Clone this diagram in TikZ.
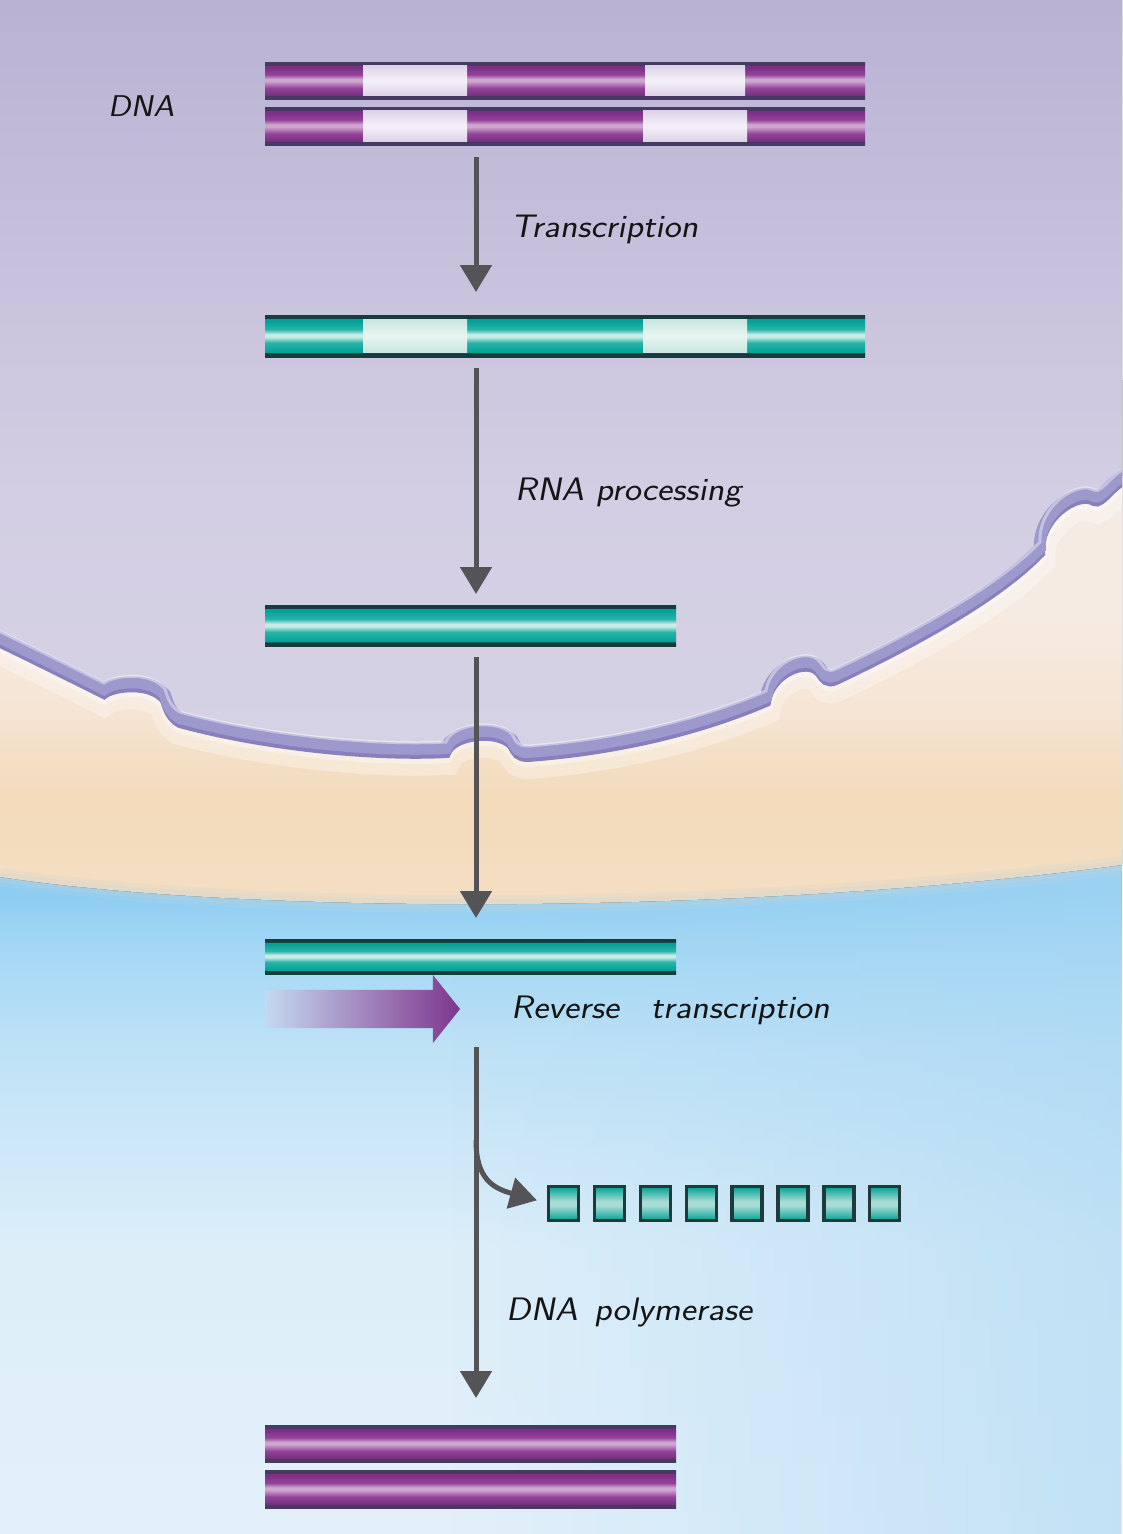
\documentclass[tikz,border=0pt]{standalone}
\usepackage{fontspec}
\usetikzlibrary{arrows.meta,shapes.arrows,fadings}
\newfontfamily\handfont{Latin Modern Sans}[FakeSlant=0.18,FakeStretch=1.12]

\definecolor{pedge}{HTML}{463A62}
\definecolor{pbot}{HTML}{74307F}
\definecolor{pbody}{HTML}{93449A}
\definecolor{phigh}{HTML}{CFA6CF}
\definecolor{ptop}{HTML}{7F2F87}
\definecolor{tedge}{HTML}{163C3E}
\definecolor{tbody}{HTML}{00A196}
\definecolor{tbodyb}{HTML}{2AB3A8}
\definecolor{thigh}{HTML}{C6EDE6}
\definecolor{thighsq}{HTML}{A8DCD4}
\definecolor{dlA}{HTML}{DCD2E8}
\definecolor{dlB}{HTML}{F3EFF8}
\definecolor{rlA}{HTML}{C9E6E1}
\definecolor{rlB}{HTML}{E6F4F1}
\definecolor{sqedge}{HTML}{1E3A3C}
\definecolor{arrowgray}{HTML}{545456}
\definecolor{nucT}{HTML}{B9B1D3}
\definecolor{nucU}{HTML}{C9C3DD}
\definecolor{nucM}{HTML}{D3CEE3}
\definecolor{nucB}{HTML}{D6D2E5}
\definecolor{peachB}{HTML}{F4DEC3}
\definecolor{peachM}{HTML}{F3DBBB}
\definecolor{peachL}{HTML}{F5E5D5}
\definecolor{peachT}{HTML}{F6EBE3}
\definecolor{blueB}{HTML}{E3F0FA}
\definecolor{blueM}{HTML}{DDEEF9}
\definecolor{blueL}{HTML}{BFE2F7}
\definecolor{blueS}{HTML}{A1D6F4}
\definecolor{blueT}{HTML}{8ECDF2}
\definecolor{bluetint}{HTML}{A8D6F3}
\definecolor{memb}{HTML}{9E99CD}
\definecolor{membdark}{HTML}{8780BD}
\definecolor{rtleft}{HTML}{C5D9F0}
\definecolor{rtright}{HTML}{7E368D}
\definecolor{handink}{HTML}{151515}
\colorlet{peachblue}{peachB!55!blueT}

\pgfdeclareverticalshading{dnashade}{100bp}{color(0bp)=(pedge); color(25bp)=(pedge); color(29.5bp)=(pedge); color(30bp)=(pbot); color(40bp)=(pbody); color(49bp)=(phigh); color(52bp)=(phigh); color(58bp)=(pbody); color(67bp)=(ptop); color(70bp)=(ptop); color(70.5bp)=(pedge); color(75bp)=(pedge); color(100bp)=(pedge)}
\pgfdeclareverticalshading{rnashade}{100bp}{color(0bp)=(tedge); color(25bp)=(tedge); color(29.7bp)=(tedge); color(30.2bp)=(tbody); color(42bp)=(tbodyb); color(49bp)=(thigh); color(52bp)=(thigh); color(58bp)=(tbodyb); color(68bp)=(tbody); color(70.3bp)=(tbody); color(70.8bp)=(tedge); color(75bp)=(tedge); color(100bp)=(tedge)}
\pgfdeclareverticalshading{dnalight}{100bp}{color(0bp)=(dlA); color(25bp)=(dlA); color(48bp)=(dlB); color(52bp)=(dlB); color(75bp)=(dlA); color(100bp)=(dlA)}
\pgfdeclareverticalshading{rnalight}{100bp}{color(0bp)=(rlA); color(25bp)=(rlA); color(48bp)=(rlB); color(52bp)=(rlB); color(75bp)=(rlA); color(100bp)=(rlA)}
\pgfdeclareverticalshading{sqshade}{100bp}{color(0bp)=(tbody); color(25bp)=(tbody); color(47bp)=(thighsq); color(53bp)=(thighsq); color(75bp)=(tbody); color(100bp)=(tbody)}
\pgfdeclareverticalshading{nucshade}{100bp}{color(0bp)=(nucB); color(25bp)=(nucB); color(42bp)=(nucM); color(55bp)=(nucU); color(75bp)=(nucT); color(100bp)=(nucT)}
\pgfdeclareverticalshading{peachshade}{100bp}{color(0bp)=(peachB); color(25bp)=(peachB); color(36bp)=(peachM); color(44.5bp)=(peachL); color(54bp)=(peachT); color(100bp)=(peachT)}
\pgfdeclareverticalshading{blueshade}{100bp}{color(0bp)=(blueB); color(25bp)=(blueB); color(45.8bp)=(blueM); color(60.4bp)=(blueL); color(68.4bp)=(blueS); color(71.7bp)=(blueT); color(100bp)=(blueT)}

\tikzfading[name=fadeLR, left color=transparent!100, right color=transparent!45]

\tikzset{
  bar/.style={rectangle, inner sep=0pt, outer sep=0pt, anchor=north west, shade},
  dnabar/.style={bar, shading=dnashade},
  rnabar/.style={bar, shading=rnashade},
  dnaintron/.style={bar, shading=dnalight},
  rnaintron/.style={bar, shading=rnalight},
  nucleotide/.style={rectangle, inner sep=0pt, outer sep=0pt, minimum width=30pt, minimum height=34pt, shade, shading=sqshade, draw=sqedge, line width=3.3pt},
  flow/.style={draw=arrowgray, line width=5pt, -{Triangle[width=31pt,length=27pt]}},
  lab/.style={font=\handfont\fontsize{32.5}{38}\selectfont, text=handink, anchor=base west, inner sep=0pt},
  rtstyle/.style={single arrow, shade, left color=rtleft, right color=rtright, minimum height=195pt, minimum width=68pt, single arrow head extend=15pt, single arrow tip angle=103, inner xsep=0pt, inner ysep=19pt, outer sep=0pt}
}

\def\membpath{(-20,628) .. controls (30,652) and (70,672) .. (104,689)
 .. controls (112,682) and (150,676) .. (165,695)
 .. controls (168,705) and (171,713) .. (180,718)
 .. controls (260,740) and (370,752) .. (446,748)
 .. controls (452,730) and (496,724) .. (512,740)
 .. controls (516,748) and (518,752) .. (528,752)
 .. controls (620,745) and (700,725) .. (766,697)
 .. controls (770,668) and (808,652) .. (820,668)
 .. controls (824,674) and (827,679) .. (836,675)
 .. controls (920,635) and (1000,590) .. (1040,548)
 .. controls (1038,512) and (1078,486) .. (1094,496)
 .. controls (1098,498) and (1102,494) .. (1110,486)
 .. controls (1118,478) and (1130,470) .. (1145,462)}
\def\bndpath{(1122,865) .. controls (750,915) and (250,915) .. (0,877)}

\begin{document}
\begin{tikzpicture}[x=1pt,y=-1pt]
\useasboundingbox (0,0) rectangle (1122,1534);
\begin{scope}
  \clip (0,0) rectangle (1122,1534);
  % cytoplasm (blue)
  \fill[shade, shading=blueshade] (0,850) rectangle (1122,1534);
  \fill[bluetint, path fading=fadeLR] (450,860) rectangle (1122,1534);
  % peach zone
  \fill[shade, shading=peachshade] (0,560) -- (1122,380) -- \bndpath -- cycle;
  \draw[line width=18pt, peachblue, opacity=.18] \bndpath;
  \draw[line width=10pt, peachblue, opacity=.22] \bndpath;
  % glow below membrane
  \draw[white, opacity=.3, line width=30pt, yshift=-12pt] \membpath;
  \draw[white, opacity=.35, line width=14pt, yshift=-8pt] \membpath;
  % nucleus
  \fill[shade, shading=nucshade] \membpath -- (1145,-10) -- (-20,-10) -- cycle;
  % nuclear envelope
  \draw[membdark, line width=10pt, yshift=-5pt] \membpath;
  \draw[memb, line width=12pt] \membpath;
  \draw[white, opacity=.4, line width=3pt, yshift=6pt] \membpath;
\end{scope}

% genomic DNA
\node[dnabar, minimum width=600pt, minimum height=37pt] (dna1) at (265,62) {};
\node[dnabar, minimum width=600pt, minimum height=38pt] (dna2) at (265,107) {};
\node[dnaintron, minimum width=104pt, minimum height=30pt] (in1) at (363,65.5) {};
\node[dnaintron, minimum width=100pt, minimum height=30pt] (in2) at (645,65.5) {};
\node[dnaintron, minimum width=104pt, minimum height=31pt] (in3) at (363,110.5) {};
\node[dnaintron, minimum width=104pt, minimum height=31pt] (in4) at (643,110.5) {};

% primary transcript
\node[rnabar, minimum width=600pt, minimum height=42pt] (rna) at (265,315) {};
\node[rnaintron, minimum width=104pt, minimum height=33pt] (rin1) at (363,319.5) {};
\node[rnaintron, minimum width=104pt, minimum height=33pt] (rin2) at (643,319.5) {};

% mRNA in nucleus
\node[rnabar, minimum width=411pt, minimum height=41pt] (mrna) at (265,605) {};
% mRNA in cytoplasm
\node[rnabar, minimum width=411pt, minimum height=35pt] (cmrna) at (265,939) {};
% reverse transcription arrow
\node[rtstyle, anchor=tip] (rtarrow) at (460,1009) {};
% nucleotides
\foreach \i in {1,...,8} {
  \node[nucleotide] (sq\i) at ({563.5+45.9*(\i-1)},1203.5) {};
}
% cDNA
\node[dnabar, minimum width=411pt, minimum height=37pt] (cdna1) at (265,1425) {};
\node[dnabar, minimum width=411pt, minimum height=38pt] (cdna2) at (265,1470) {};

% connectors
\coordinate (axis) at (476,0);
\coordinate (branch) at (476,1140);
\draw[flow, shorten <=12pt, shorten >=23pt] (dna2.south -| axis) -- (rna.north -| axis);
\draw[flow, shorten <=11pt, shorten >=11pt] (rna.south -| axis) -- (mrna.north -| axis);
\draw[flow, shorten <=11pt, shorten >=21pt] (mrna.south -| axis) -- (cmrna.north -| axis);
\draw[flow, shorten <=73pt, shorten >=27pt] (cmrna.south -| axis) -- (cdna1.north -| axis);
\draw[flow, shorten >=12pt] (branch) .. controls (476,1178) and (492,1188) .. (sq1.west);

% labels
\node[lab, font=\handfont\fontsize{30}{36}\selectfont] (ldna) at (108,116) {DNA};
\node[lab] (ltr) at (511,237) {Transcription};
\node[lab] (lrp) at (515,500) {RNA processing};
\node[lab] (lrt) at (511,1018) {Reverse\hspace{20pt} transcription};
\node[lab] (ldp) at (506,1320) {DNA\hspace{5pt} polymerase};
\end{tikzpicture}
\end{document}
